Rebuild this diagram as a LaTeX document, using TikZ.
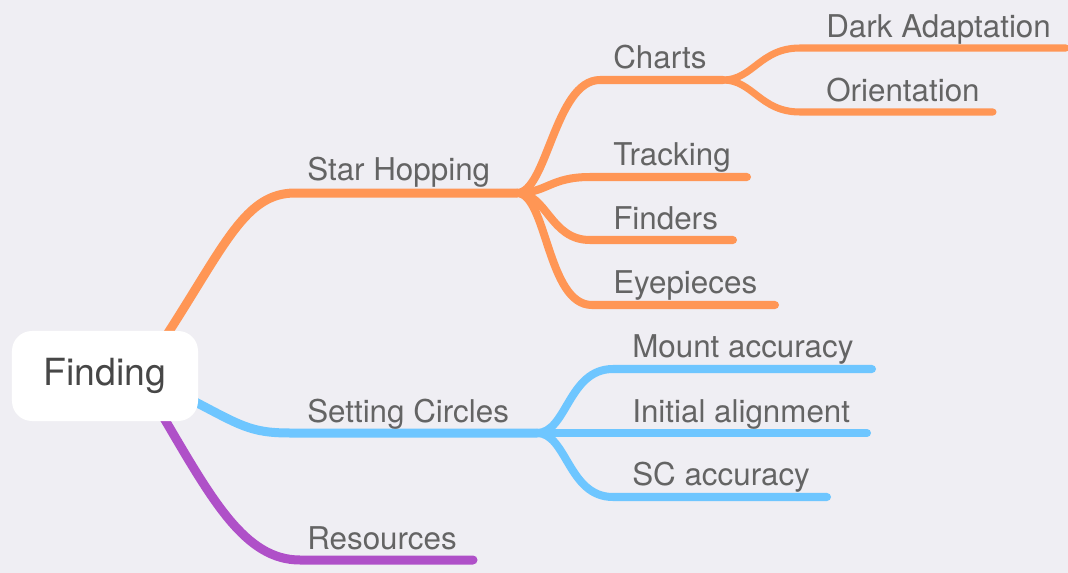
\documentclass[tikz,border=0pt]{standalone}
\usepackage{fontspec}
\setmainfont{TeX Gyre Heros}
\usetikzlibrary{calc,backgrounds}
\definecolor{bgcol}{RGB}{239,238,243}
\definecolor{hoporange}{RGB}{255,150,85}
\definecolor{scblue}{RGB}{110,198,255}
\definecolor{respurple}{RGB}{175,80,200}
\definecolor{txtgray}{RGB}{100,100,100}
\tikzset{
  lbl/.style={anchor=base west,inner sep=0pt,text=txtgray,font=\fontsize{22.3}{26}\selectfont},
  lvlA/.style={line width=6.4pt,line cap=round},
  lvlB/.style={line width=5.7pt,line cap=round},
  lvlC/.style={line width=5pt,line cap=round},
}
\begin{document}
\begin{tikzpicture}[x=0.025cm,y=-0.025cm]
  \useasboundingbox (0,0) rectangle (1068,573);
  % root
  \node[fill=white,rounded corners=0.5cm,minimum width=4.65cm,minimum height=2.25cm,inner sep=0pt,text=black!72,font=\fontsize{26.6}{30}\selectfont] (root) at (105,376) {Finding};
  % labels
  \node[lbl] (shop) at (307,180) {Star Hopping};
  \node[lbl] (charts) at (613,68) {Charts};
  \node[lbl] (dark) at (826,37) {Dark Adaptation};
  \node[lbl] (orient) at (826,101) {Orientation};
  \node[lbl] (track) at (613,165) {Tracking};
  \node[lbl] (finders) at (613,229) {Finders};
  \node[lbl] (eyep) at (613,293) {Eyepieces};
  \node[lbl] (setc) at (307,422) {Setting Circles};
  \node[lbl] (mount) at (632,357) {Mount accuracy};
  \node[lbl] (init) at (632,422) {Initial alignment};
  \node[lbl] (scacc) at (632,485) {SC accuracy};
  \node[lbl] (res) at (307,549) {Resources};
  % branch points
  \coordinate (rootSH) at ($(root.north east)+(-34,8)$);
  \coordinate (rootSC) at ($(root.south east)+(-8,-22)$);
  \coordinate (rootRE) at ($(root.south east)+(-36,-6)$);
  \coordinate (shopS) at (295,193);
  \coordinate (shopJ) at (517,193);
  \coordinate (chartsS) at (600,80);
  \coordinate (chartsJ) at (723,80);
  \coordinate (darkS) at (800,48);
  \coordinate (darkE) at (1066,48);
  \coordinate (orientS) at (800,112);
  \coordinate (orientE) at (993,112);
  \coordinate (trackS) at (590,177);
  \coordinate (trackE) at (747,177);
  \coordinate (findersS) at (590,240);
  \coordinate (findersE) at (733,240);
  \coordinate (eyepS) at (592,305);
  \coordinate (eyepE) at (775,305);
  \coordinate (setcS) at (290,433);
  \coordinate (setcJ) at (537,433);
  \coordinate (mountS) at (613,369);
  \coordinate (mountE) at (872,369);
  \coordinate (initS) at (610,433);
  \coordinate (initE) at (867,433);
  \coordinate (scaccS) at (613,497);
  \coordinate (scaccE) at (827,497);
  \coordinate (resS) at (300,560);
  \coordinate (resE) at (473,560);
  \begin{pgfonlayer}{background}
    \fill[bgcol] (0,0) rectangle (1068,573);
    % star hopping
    \draw[lvlA,hoporange] (rootSH) .. controls +(61,-94) and +(-50,0) .. (shopS) -- (shopJ);
    \draw[lvlB,hoporange] (shopJ) .. controls +(30,0) and +(-45,0) .. (chartsS) -- (chartsJ);
    \draw[lvlC,hoporange] (chartsJ) .. controls +(30,0) and +(-40,0) .. (darkS) -- (darkE);
    \draw[lvlC,hoporange] (chartsJ) .. controls +(30,0) and +(-40,0) .. (orientS) -- (orientE);
    \draw[lvlB,hoporange] (shopJ) .. controls +(30,0) and +(-40,0) .. (trackS) -- (trackE);
    \draw[lvlB,hoporange] (shopJ) .. controls +(30,0) and +(-40,0) .. (findersS) -- (findersE);
    \draw[lvlB,hoporange] (shopJ) .. controls +(30,0) and +(-45,0) .. (eyepS) -- (eyepE);
    % setting circles
    \draw[lvlA,scblue] (rootSC) .. controls +(50,26) and +(-40,0) .. (setcS) -- (setcJ);
    \draw[lvlB,scblue] (setcJ) .. controls +(30,0) and +(-45,0) .. (mountS) -- (mountE);
    \draw[lvlB,scblue] (setcJ) -- (initE);
    \draw[lvlB,scblue] (setcJ) .. controls +(30,0) and +(-45,0) .. (scaccS) -- (scaccE);
    % resources
    \draw[lvlA,respurple] (rootRE) .. controls +(50,85) and +(-55,0) .. (resS) -- (resE);
  \end{pgfonlayer}
\end{tikzpicture}
\end{document}
